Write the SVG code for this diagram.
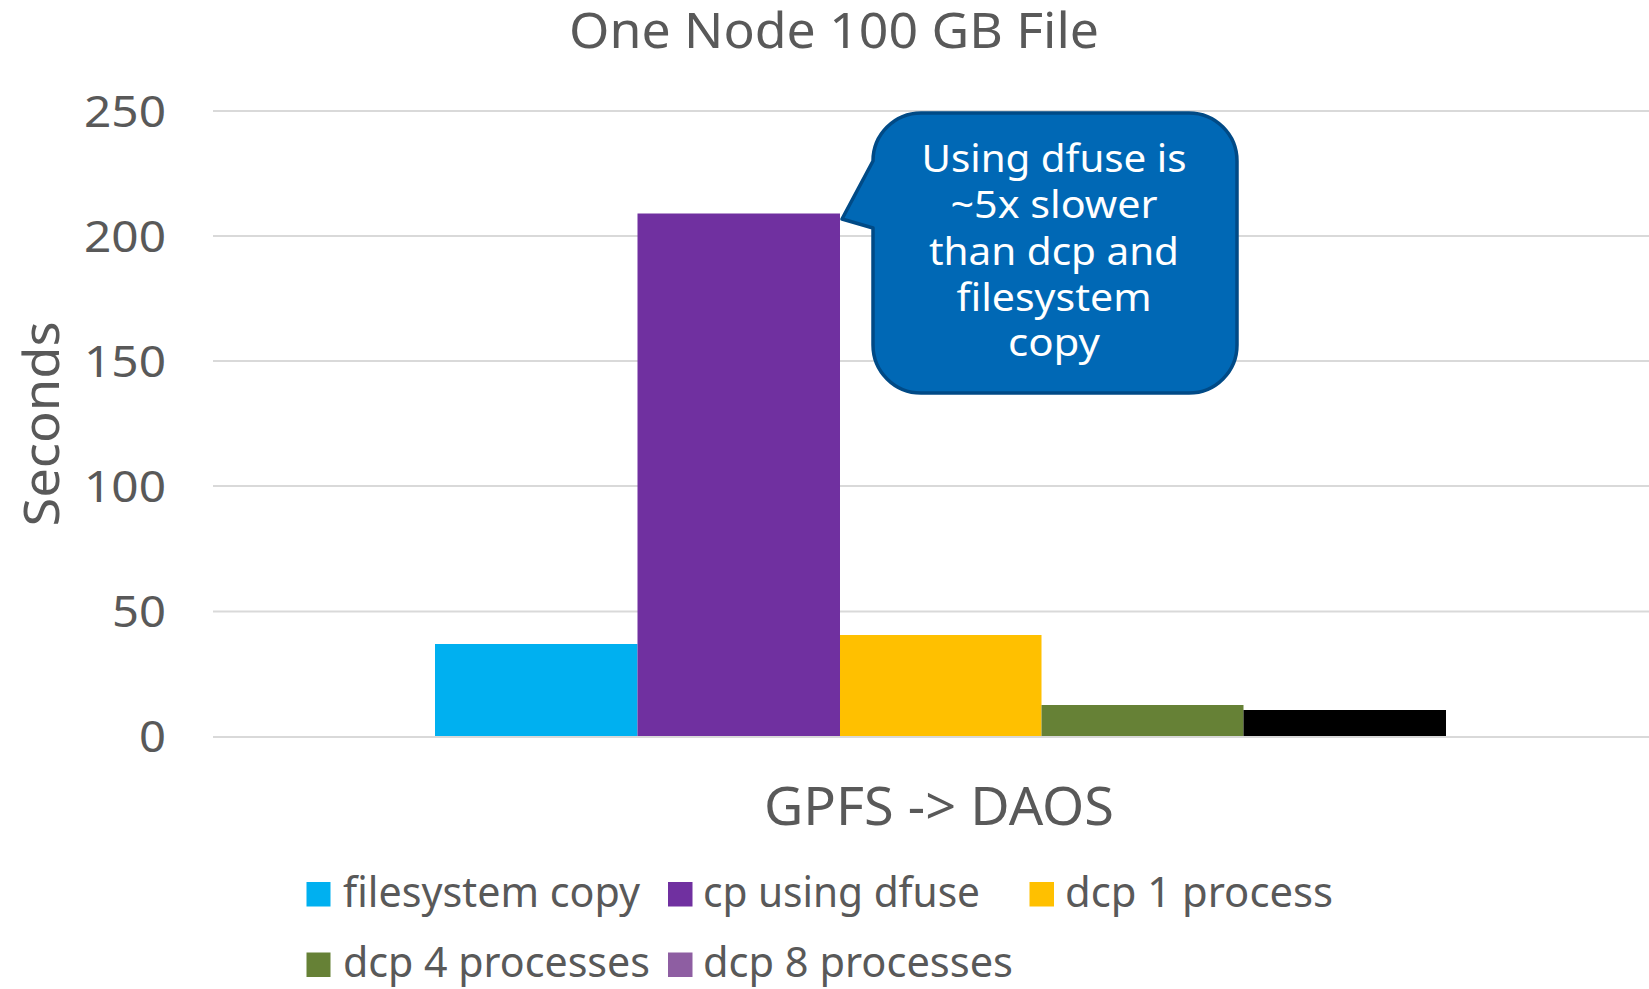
<svg xmlns="http://www.w3.org/2000/svg" width="1649" height="989" viewBox="0 0 1649 989">
<style>
.t{font-family:"Noto Sans","Open Sans","Liberation Sans",sans-serif;fill:#595959}
.grid{stroke:#D9D9D9;stroke-width:2}
.ytick{font-size:44px;text-anchor:end}
.leg{font-size:42px}
.call{font-family:"Noto Sans","Open Sans","Liberation Sans",sans-serif;fill:#FFFFFF;font-size:38px;text-anchor:middle}
</style>
<rect width="1649" height="989" fill="#FFFFFF"/>
<text id="title" class="t" x="834" y="48" font-size="49" text-anchor="middle" textLength="530" lengthAdjust="spacingAndGlyphs">One Node 100 GB File</text>
<g id="gridlines">
<line class="grid" x1="213" y1="111" x2="1649" y2="111"/>
<line class="grid" x1="213" y1="236" x2="1649" y2="236"/>
<line class="grid" x1="213" y1="361" x2="1649" y2="361"/>
<line class="grid" x1="213" y1="486" x2="1649" y2="486"/>
<line class="grid" x1="213" y1="611.5" x2="1649" y2="611.5"/>
</g>
<g id="y-axis">
<text class="t ytick" x="166" y="127" textLength="82" lengthAdjust="spacingAndGlyphs">250</text>
<text class="t ytick" x="166" y="252" textLength="82" lengthAdjust="spacingAndGlyphs">200</text>
<text class="t ytick" x="166" y="377" textLength="82" lengthAdjust="spacingAndGlyphs">150</text>
<text class="t ytick" x="166" y="502" textLength="82" lengthAdjust="spacingAndGlyphs">100</text>
<text class="t ytick" x="166" y="627" textLength="54" lengthAdjust="spacingAndGlyphs">50</text>
<text class="t ytick" x="166" y="752" textLength="27" lengthAdjust="spacingAndGlyphs">0</text>
<text class="t" font-size="50" text-anchor="middle" transform="translate(59,424) rotate(-90)" textLength="205" lengthAdjust="spacingAndGlyphs">Seconds</text>
</g>
<g id="bars">
<rect id="bar-filesystem-copy" x="435" y="644" width="202.5" height="92.5" fill="#00B0F0"/>
<rect id="bar-cp-dfuse" x="637.5" y="213.5" width="202.5" height="523" fill="#7030A0"/>
<rect id="bar-dcp1" x="840" y="635" width="201.5" height="101.5" fill="#FFC000"/>
<rect id="bar-dcp4" x="1041.5" y="705" width="202" height="31.5" fill="#668136"/>
<rect id="bar-dcp8" x="1243.5" y="710" width="202.5" height="26.5" fill="#000000"/>
</g>
<line id="axis-zero" class="grid" x1="213" y1="737" x2="1649" y2="737"/>
<text id="x-category" class="t" x="939" y="825" font-size="52" text-anchor="middle" textLength="350" lengthAdjust="spacingAndGlyphs">GPFS -&gt; DAOS</text>
<g id="callout">
<path d="M921,113 H1189 A48,48 0 0 1 1237,161 V345 A48,48 0 0 1 1189,393 H921 A48,48 0 0 1 873,345 V228 L842,219 L873,161 A48,48 0 0 1 921,113 Z" fill="#0068B5" stroke="#004A86" stroke-width="3.5" stroke-linejoin="round"/>
<text class="call" x="1054" y="172" textLength="265" lengthAdjust="spacingAndGlyphs">Using dfuse is</text>
<text class="call" x="1054" y="218" textLength="207" lengthAdjust="spacingAndGlyphs">~5x slower</text>
<text class="call" x="1054" y="265" textLength="250" lengthAdjust="spacingAndGlyphs">than dcp and</text>
<text class="call" x="1054" y="311" textLength="195" lengthAdjust="spacingAndGlyphs">filesystem</text>
<text class="call" x="1054" y="356" textLength="92" lengthAdjust="spacingAndGlyphs">copy</text>
</g>
<g id="legend">
<g id="legend-filesystem-copy">
<rect x="306.5" y="882" width="24" height="24.5" fill="#00B0F0"/>
<text class="t leg" x="343" y="906.5" textLength="297" lengthAdjust="spacingAndGlyphs">filesystem copy</text>
</g>
<g id="legend-cp-dfuse">
<rect x="668" y="882" width="24.5" height="24.5" fill="#7030A0"/>
<text class="t leg" x="703" y="906.5" textLength="277" lengthAdjust="spacingAndGlyphs">cp using dfuse</text>
</g>
<g id="legend-dcp1">
<rect x="1029.5" y="882" width="24.5" height="24.5" fill="#FFC000"/>
<text class="t leg" x="1065" y="906.5" textLength="268" lengthAdjust="spacingAndGlyphs">dcp 1 process</text>
</g>
<g id="legend-dcp4">
<rect x="306.5" y="952.5" width="24" height="24.5" fill="#668136"/>
<text class="t leg" x="343" y="976.5" textLength="307" lengthAdjust="spacingAndGlyphs">dcp 4 processes</text>
</g>
<g id="legend-dcp8">
<rect x="668" y="952.5" width="24.5" height="24.5" fill="#8E5EA2"/>
<text class="t leg" x="703" y="976.5" textLength="310" lengthAdjust="spacingAndGlyphs">dcp 8 processes</text>
</g>
</g>
</svg>
